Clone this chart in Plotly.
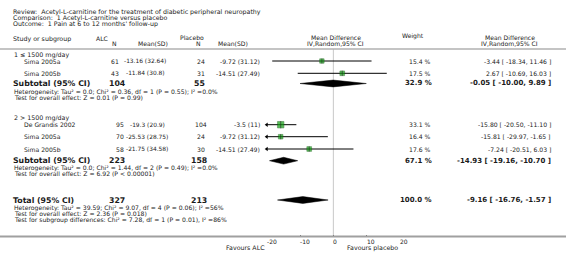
import plotly.graph_objects as go

# ---------------- data ----------------
title_lines = [
    "Review:  Acetyl-L-carnitine for the treatment of diabetic peripheral neuropathy",
    "Comparison:  1 Acetyl-L-carnitine versus placebo",
    "Outcome:  1 Pain at 6 to 12 months' follow-up",
]
group_labels = ["1 \u2264 1500 mg/day", "2 > 1500 mg/day"]
study_group = [0, 0, 1, 1, 1]
studies = ["Sima 2005a", "Sima 2005b", "De Grandis 2002", "Sima 2005a", "Sima 2005b"]
alc_n = [61, 43, 95, 70, 58]
alc_mean = [-13.16, -11.84, -19.3, -25.53, -21.75]
alc_sd = [32.64, 30.8, 20.9, 28.75, 34.58]
pla_n = [24, 31, 104, 24, 30]
pla_mean = [-9.72, -14.51, -3.5, -9.72, -14.51]
pla_sd = [31.12, 27.49, 11, 31.12, 27.49]
weights = [15.4, 17.5, 33.1, 16.4, 17.6]
md = [-3.44, 2.67, -15.80, -15.81, -7.24]
md_lo = [-18.34, -10.69, -20.50, -29.97, -20.51]
md_hi = [11.46, 16.03, -11.10, -1.65, 6.03]

sub_alc_n = [104, 223]
sub_pla_n = [55, 158]
sub_weight = [32.9, 67.1]
sub_md = [-0.05, -14.93]
sub_lo = [-10.00, -19.16]
sub_hi = [9.89, -10.70]
sub_het = [
    "Heterogeneity: Tau\u00b2 = 0.0; Chi\u00b2 = 0.36, df = 1 (P = 0.55); I\u00b2 =0.0%",
    "Heterogeneity: Tau\u00b2 = 0.0; Chi\u00b2 = 1.44, df = 2 (P = 0.49); I\u00b2 =0.0%",
]
sub_test = [
    "Test for overall effect: Z = 0.01 (P = 0.99)",
    "Test for overall effect: Z = 6.92 (P < 0.00001)",
]
tot_alc_n = 327
tot_pla_n = 213
tot_weight = 100.0
tot_md = -9.16
tot_lo = -16.76
tot_hi = -1.57
tot_notes = [
    "Heterogeneity: Tau\u00b2 = 39.59; Chi\u00b2 = 9.07, df = 4 (P = 0.06); I\u00b2 =56%",
    "Test for overall effect: Z = 2.36 (P = 0.018)",
    "Test for subgroup differences: Chi\u00b2 = 7.28, df = 1 (P = 0.01), I\u00b2 =86%",
]
x_ticks = [-20, -10, 0, 10, 20]
x_range = [-20, 20]
favours = ["Favours ALC", "Favours placebo"]

# ---------------- layout (pixel positions) ----------------
W, H = 566, 260
study_y = [61, 73.3, 124.7, 136.7, 149]
group_y = [55, 118]
sub_y = [83.5, 160.7]
sub_note_y = [[91.7, 97.3], [167.7, 173.7]]
tot_y = 200
tot_note_y = [207.7, 213.7, 219.7]
axis_y = 236.5
sep_y = 49
plot_x0, plot_x1 = 266.7, 400.0
alc_n_x = [114.5, 120.3]     # per subgroup, as in the original image
alc_msd_x = [145, 147.3]

FONT = "DejaVu Sans"
TXT = "#1a1a1a"
SMALL = 6.1
BOLD = 7.8

annotations = []


def ann(text, x, y, anchor="left", size=SMALL, bold=False, color=TXT):
    if bold:
        text = "<b>" + text + "</b>"
    annotations.append(dict(
        text=text, x=x / W, y=1 - y / H, xref="paper", yref="paper",
        xanchor=anchor, yanchor="middle", showarrow=False,
        font=dict(family=FONT, size=size, color=color), borderpad=0,
    ))


def num(v):
    return f"{v:g}"


def eff(m, l, h):
    return f"{m:.2f} [ {l:.2f}, {h:.2f} ]"


# titles
for i, t in enumerate(title_lines):
    ann(t.replace("  ", "\u00a0 "), 12, 12 + i * 6.1, size=6.3)

# headers
ann("Study or subgroup", 12, 38.5, size=6.3)
ann("ALC", 95, 38)
ann("N", 114, 43.5, anchor="center")
ann("Mean(SD)", 153, 43.5, anchor="center")
ann("Placebo", 179, 37.5)
ann("N", 198, 43.5, anchor="center")
ann("Mean(SD)", 233, 43.5, anchor="center")
ann("Mean Difference", 336, 37.5, anchor="center")
ann("IV,Random,95% CI", 335, 43.5, anchor="center")
ann("Weight", 413, 36.5, anchor="center")
ann("Mean Difference", 510, 37.5, anchor="center")
ann("IV,Random,95% CI", 509, 43.5, anchor="center")

# group labels
for g, lab in enumerate(group_labels):
    ann(lab, 13, group_y[g], size=6.3)

# study rows
for i in range(len(studies)):
    y = study_y[i]
    g = study_group[i]
    ann(studies[i], 23, y)
    ann(str(alc_n[i]), alc_n_x[g], y, anchor="center")
    ann(f"{num(alc_mean[i])} ({num(alc_sd[i])})", alc_msd_x[g], y, anchor="center",
        size=5.9)
    ann(str(pla_n[i]), 201, y, anchor="center")
    ann(f"{num(pla_mean[i])} ({num(pla_sd[i])})", 260.5, y, anchor="right")
    ann(f"{weights[i]:.1f} %", 432, y, anchor="right")
    ann(eff(md[i], md_lo[i], md_hi[i]), 552, y, anchor="right")

# subtotals
for g in range(2):
    y = sub_y[g]
    ann("Subtotal (95% CI)", 12, y, size=BOLD, bold=True)
    ann(str(sub_alc_n[g]), 117, y, anchor="center", size=BOLD, bold=True)
    ann(str(sub_pla_n[g]), 199, y, anchor="center", size=BOLD, bold=True)
    ann(f"{sub_weight[g]:.1f} %", 433, y, anchor="right", size=7, bold=True)
    ann(eff(sub_md[g], sub_lo[g], sub_hi[g]), 552, y, anchor="right", size=7, bold=True)
    ann(sub_het[g], 13, sub_note_y[g][0])
    ann(sub_test[g], 13, sub_note_y[g][1])

# total
ann("Total (95% CI)", 12, tot_y, size=BOLD, bold=True)
ann(str(tot_alc_n), 117, tot_y, anchor="center", size=BOLD, bold=True)
ann(str(tot_pla_n), 199, tot_y, anchor="center", size=BOLD, bold=True)
ann(f"{tot_weight:.1f} %", 433, tot_y, anchor="right", size=7, bold=True)
ann(eff(tot_md, tot_lo, tot_hi), 552, tot_y, anchor="right", size=7, bold=True)
for t, y in zip(tot_notes, tot_note_y):
    ann(t, 13, y)

# favours labels
ann(favours[0], 266, 247.5, anchor="right", size=6.3)
ann(favours[1], 346, 247.5, anchor="left", size=6.3)

# tick labels (left aligned at ticks, like the original)
for v in x_ticks:
    annotations.append(dict(
        text=str(v), x=v, xref="x", y=1 - 241.5 / H, yref="paper",
        xanchor="left", yanchor="middle", showarrow=False, xshift=-1,
        font=dict(family=FONT, size=6, color=TXT), borderpad=0,
    ))

fig = go.Figure()

# CI lines
for i in range(len(studies)):
    lo = max(md_lo[i], x_range[0])
    hi = min(md_hi[i], x_range[1])
    fig.add_trace(go.Scatter(
        x=[lo, hi], y=[study_y[i], study_y[i]], mode="lines",
        line=dict(color="black", width=1), hoverinfo="skip", showlegend=False,
        cliponaxis=False,
    ))
    if md_lo[i] < x_range[0]:
        fig.add_trace(go.Scatter(
            x=[x_range[0]], y=[study_y[i]], mode="markers",
            marker=dict(symbol="triangle-left", size=4, color="black"),
            hoverinfo="skip", showlegend=False, cliponaxis=False,
        ))

# squares
fig.add_trace(go.Scatter(
    x=md, y=study_y, mode="markers",
    marker=dict(symbol="square", size=[w ** 0.5 * 1.12 for w in weights],
                color="#12a012", line=dict(color="#0a5a0a", width=0.6)),
    hoverinfo="skip", showlegend=False,
))
fig.add_trace(go.Scatter(
    x=md, y=study_y, mode="markers",
    marker=dict(symbol="line-ns", size=[w ** 0.5 * 0.9 for w in weights],
                line=dict(color="#222", width=0.8)),
    hoverinfo="skip", showlegend=False,
))

# diamonds
half_h = 3.4
diamonds = [(sub_md[g], sub_lo[g], sub_hi[g], sub_y[g]) for g in range(2)]
diamonds.append((tot_md, tot_lo, tot_hi, tot_y))
for m, lo, hi, y in diamonds:
    fig.add_trace(go.Scatter(
        x=[lo, m, hi, m, lo], y=[y, y - half_h, y, y + half_h, y],
        mode="lines", fill="toself", fillcolor="black",
        line=dict(color="black", width=0.5), hoverinfo="skip", showlegend=False,
    ))

shapes = [
    dict(type="line", xref="paper", yref="paper", x0=0, x1=1,
         y0=1 - sep_y / H, y1=1 - sep_y / H, line=dict(color="#b0b0b0", width=1.5)),
    dict(type="line", xref="paper", yref="paper", x0=0, x1=1,
         y0=1 - axis_y / H, y1=1 - axis_y / H, line=dict(color="#a0a0a0", width=2)),
    dict(type="line", xref="x", yref="paper", x0=0, x1=0,
         y0=1 - axis_y / H, y1=1 - sep_y / H, line=dict(color="#c8c8c8", width=1),
         layer="below"),
]

fig.update_layout(
    width=W, height=H, margin=dict(l=0, r=0, t=0, b=0),
    paper_bgcolor="white", plot_bgcolor="white",
    xaxis=dict(range=x_range, domain=[plot_x0 / W, plot_x1 / W],
               tickvals=x_ticks, showticklabels=False, ticks="inside",
               ticklen=2, tickcolor="#666", tickwidth=1,
               showgrid=False, zeroline=False, showline=False, fixedrange=True),
    yaxis=dict(range=[axis_y, sep_y], domain=[1 - axis_y / H, 1 - sep_y / H],
               visible=False, fixedrange=True),
    shapes=shapes, annotations=annotations, showlegend=False,
)

fig.write_html(
    "out.html",
    config={"displayModeBar": False, "staticPlot": True},
    post_script="document.body.style.margin='0px';document.body.style.overflow='hidden';",
)
